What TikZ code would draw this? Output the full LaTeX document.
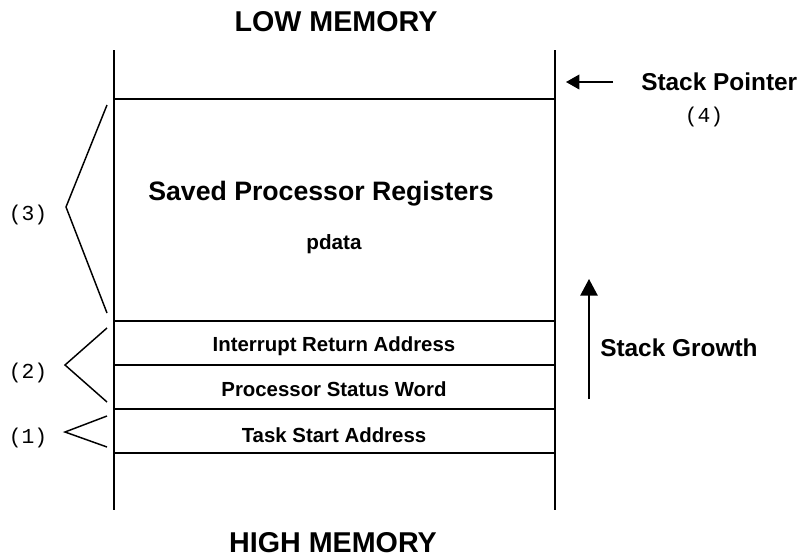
\documentclass[tikz,border=0pt]{standalone}
\usepackage{fontspec}
\setmainfont{Liberation Sans}
\setmonofont{Liberation Mono}
\usetikzlibrary{arrows.meta}
\begin{document}
\begin{tikzpicture}[x=0.75pt,y=-0.75pt,
  frame/.style={line width=1.5pt},
  bracelines/.style={line width=1.1pt,line join=miter},
  lbl/.style={font=\bfseries\fontsize{#1}{#1}\selectfont,inner sep=0pt,anchor=center},
  mono/.style={font=\ttfamily\fontsize{16}{16}\selectfont,inner sep=0pt,anchor=center},
  arrsp/.style={line width=1.2pt,-{Triangle[length=10pt,width=11pt]}},
  arrsg/.style={line width=1.2pt,-{Triangle[length=12.5pt,width=13pt]}}]
\useasboundingbox (0,0) rectangle (799,557);
% frame
\draw[frame] (114,50) -- (114,510);
\draw[frame] (555,50) -- (555,510);
\foreach \yy in {99,321,365,409,453}{\draw[frame] (114,\yy) -- (555,\yy);}
% titles
\node[lbl=21.5] (low) at (336,22) {LOW MEMORY};
\node[lbl=21.5] (high) at (333,543) {HIGH MEMORY};
% box texts
\node[lbl=20] (saved) at (321,194) {Saved Processor Registers};
\node[lbl=15.5] (pdata) at (334,244) {pdata};
\node[lbl=15.3] (ira) at (334,346) {Interrupt Return Address};
\node[lbl=15.3] (psw) at (334,389) {Processor Status Word};
\node[lbl=15.3] (tsa) at (334,435) {Task Start Address};
% stack pointer
\node[lbl=18.3,anchor=west] (sp) at (641,82) {Stack Pointer};
\node[mono] (four) at (704,117) {(4)};
\coordinate (spstart) at (613,82);
\coordinate (spend) at (566,82);
\draw[arrsp] (spstart) -- (spend);
% stack growth
\node[lbl=18.3,anchor=west] (sg) at (600,348) {Stack Growth};
\coordinate (sgstart) at (589,399);
\coordinate (sgend) at (589,279);
\draw[arrsg] (sgstart) -- (sgend);
% braces
\draw[bracelines] (107,105) -- (66,207) -- (107,313);
\draw[bracelines] (107,328) -- (65,365) -- (107,402);
\draw[bracelines] (107,416) -- (65,432) -- (107,447);
\node[mono] (three) at (28,215) {(3)};
\node[mono] (two) at (28,373) {(2)};
\node[mono] (one) at (28,438) {(1)};
\end{tikzpicture}
\end{document}
